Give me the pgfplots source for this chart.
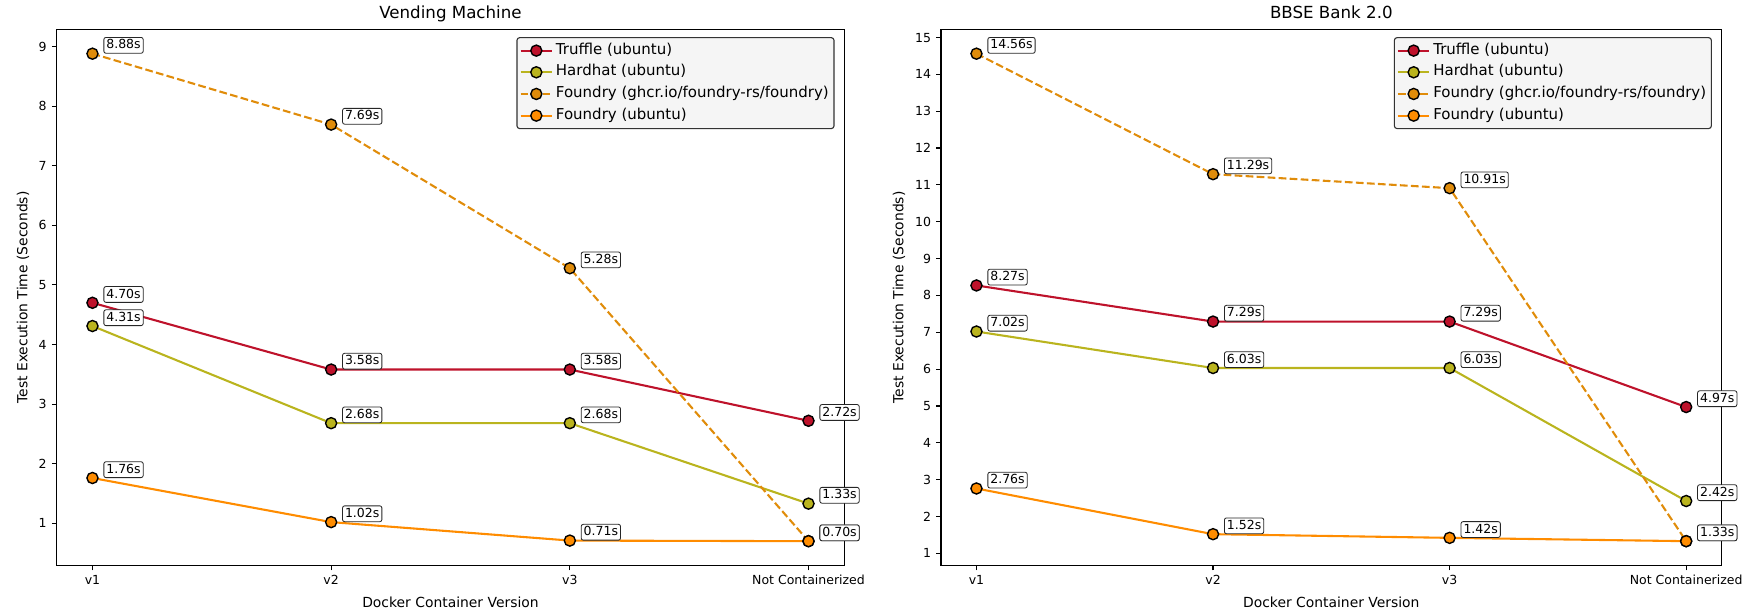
\documentclass[border=0pt]{standalone}
\usepackage{fontspec}
\setmainfont{DejaVu Sans}
\usepackage{pgfplots}
\pgfplotsset{compat=1.18}

\definecolor{cTruffle}{RGB}{190,18,43}
\definecolor{cHardhat}{RGB}{186,180,30}
\definecolor{cGhcr}{RGB}{224,140,10}
\definecolor{cFoundry}{RGB}{255,140,0}

\pgfplotsset{
  ser/.style={color=#1, line width=1.5pt, mark=*, mark size=4pt,
    mark options={solid, draw=black, fill=#1, line width=1pt},
    nodes near coords, point meta=explicit symbolic},
  base/.style={
    scale only axis, height=386.1pt,
    xmin=-0.15, xmax=3.15,
    xtick={0,1,2,3}, xticklabels={v1,v2,v3,Not Containerized},
    tick pos=left, tick align=outside, major tick length=3.5pt,
    every tick/.style={black, line width=0.8pt},
    axis line style={black, line width=0.8pt},
    /pgf/number format/assume math mode=true,
    ticklabel style={font=\fontsize{9}{11}\selectfont, text=black},
    xticklabel style={anchor=base, inner sep=0pt, yshift=-10.1pt},
    yticklabel style={anchor=base east, inner sep=0pt, xshift=-3.5pt, yshift=-3.3pt},
    xlabel={Docker Container Version},
    ylabel={Test Execution Time (Seconds)},
    label style={font=\fontsize{10}{12}\selectfont},
    xlabel style={at={(axis description cs:0.5,0)}, anchor=base, inner sep=0pt, yshift=-29.9pt},
    title style={font=\fontsize{12}{14}\selectfont, at={(axis description cs:0.5,1)}, anchor=base, inner sep=0pt, yshift=1.9pt},
    clip=false, axis on top,
    nodes near coords style={anchor=south west, xshift=7.9pt, yshift=0pt, fill=white,
      draw=black!85, rounded corners=1.5pt, line width=0.6pt, inner xsep=1.8pt, inner ysep=1.6pt,
      text height=6.7pt, text depth=1.5pt, font=\fontsize{9}{10}\selectfont, text=black},
    legend cell align=left,
    legend style={at={(1,1)}, anchor=north east, xshift=-7pt, yshift=-5.6pt,
      draw=black!80, fill=black!4, rounded corners=2pt, line width=0.8pt,
      font=\fontsize{10.8}{12.8}\selectfont, inner xsep=1.8pt, inner ysep=2.5pt, row sep=1.9pt,
      nodes={inner sep=2pt, text height=7.5pt, text depth=2.2pt},
      /tikz/every even column/.style={column sep=5.2pt}},
    legend image code/.code={\draw[mark repeat=2, mark phase=2, #1] plot coordinates {(0cm,0cm) (0.4cm,0cm) (0.8cm,0cm)};},
  },
}

\begin{document}
\begin{tikzpicture}
\useasboundingbox (-40.8pt,-34.2pt) rectangle (1215.6pt,407.2pt);

\begin{axis}[base, at={(0pt,0pt)}, anchor=south west, width=567.1pt,
  ymin=0.291, ymax=9.289, ytick={1,2,...,9},
  title={Vending Machine},
  ylabel style={at={(axis description cs:-0.0372,0.5)}, rotate=0, anchor=base, inner sep=0pt}]
\addplot[ser=cTruffle] table[x=x,y=y,meta=l] {
x y l
0 4.70 4.70s
1 3.58 3.58s
2 3.58 3.58s
3 2.72 2.72s
};
\addlegendentry{Truffle (ubuntu)}
\addplot[ser=cHardhat] table[x=x,y=y,meta=l] {
x y l
0 4.31 4.31s
1 2.68 2.68s
2 2.68 2.68s
3 1.33 1.33s
};
\addlegendentry{Hardhat (ubuntu)}
\addplot[ser=cGhcr, dash pattern=on 5.55pt off 2.4pt] table[x=x,y=y,meta=l] {
x y l
0 8.88 8.88s
1 7.69 7.69s
2 5.28 5.28s
3 0.70 0.70s
};
\addlegendentry{Foundry (ghcr.io/foundry-rs/foundry)}
\addplot[ser=cFoundry] table[x=x,y=y,meta=l] {
x y l
0 1.76 1.76s
1 1.02 1.02s
2 0.71 0.71s
3 0.70 0.70s
};
\addlegendentry{Foundry (ubuntu)}
\end{axis}

\begin{axis}[base, at={(636.7pt,0pt)}, anchor=south west, width=562.1pt,
  ymin=0.6685, ymax=15.2215, ytick={1,2,...,15},
  title={BBSE Bank 2.0},
  ylabel style={at={(axis description cs:-0.0482,0.5)}, rotate=0, anchor=base, inner sep=0pt}]
\addplot[ser=cTruffle] table[x=x,y=y,meta=l] {
x y l
0 8.27 8.27s
1 7.29 7.29s
2 7.29 7.29s
3 4.97 4.97s
};
\addlegendentry{Truffle (ubuntu)}
\addplot[ser=cHardhat] table[x=x,y=y,meta=l] {
x y l
0 7.02 7.02s
1 6.03 6.03s
2 6.03 6.03s
3 2.42 2.42s
};
\addlegendentry{Hardhat (ubuntu)}
\addplot[ser=cGhcr, dash pattern=on 5.55pt off 2.4pt] table[x=x,y=y,meta=l] {
x y l
0 14.56 14.56s
1 11.29 11.29s
2 10.91 10.91s
3 1.33 1.33s
};
\addlegendentry{Foundry (ghcr.io/foundry-rs/foundry)}
\addplot[ser=cFoundry] table[x=x,y=y,meta=l] {
x y l
0 2.76 2.76s
1 1.52 1.52s
2 1.42 1.42s
3 1.33 1.33s
};
\addlegendentry{Foundry (ubuntu)}
\end{axis}
\end{tikzpicture}
\end{document}
